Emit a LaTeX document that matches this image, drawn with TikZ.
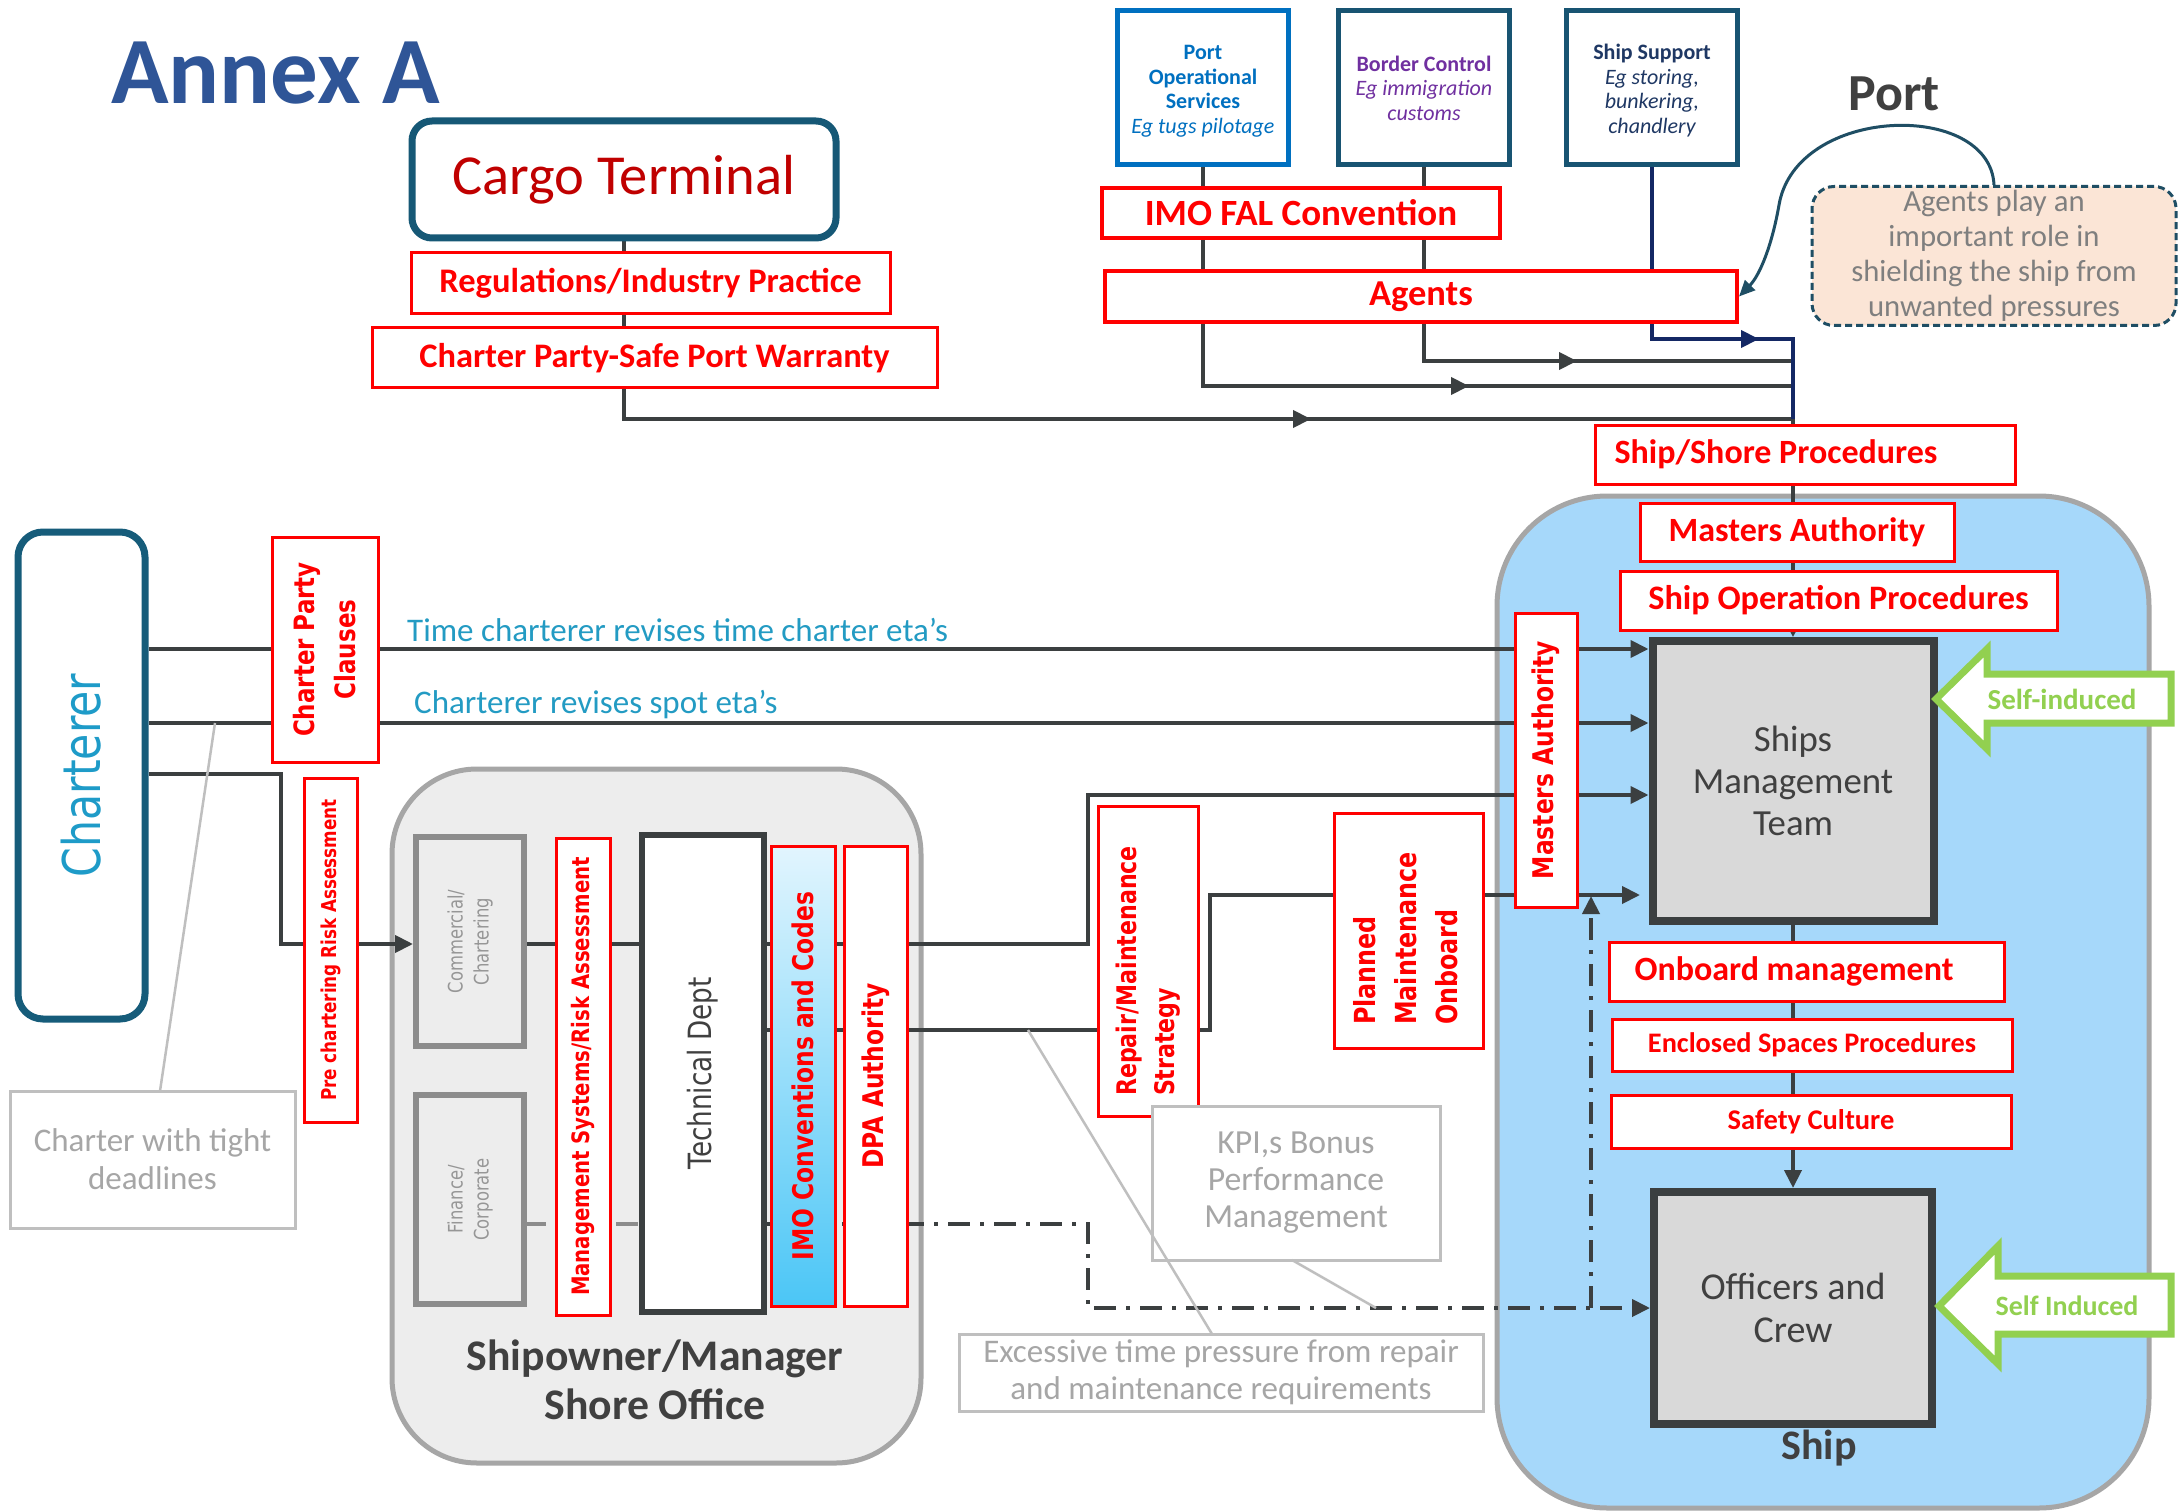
\documentclass[tikz,border=0pt]{standalone}
\usepackage{fontspec}
\setmainfont{Carlito}
\newfontfamily\tah[FakeStretch=0.82]{DejaVu Sans}
\usetikzlibrary{arrows.meta,calc}
\pgfdeclarelayer{back}
\pgfdeclarelayer{lines}
\pgfsetlayers{back,lines,main}
\newcommand\fsz[2]{\fontsize{#1}{#2}\selectfont}
\newcommand\stackc[1]{\raisebox{0pt}[\dimexpr\height+7pt\relax][\depth]{\begin{tabular}{@{}c@{}}#1\end{tabular}}}
\definecolor{lnc}{RGB}{59,63,64}
\definecolor{navyl}{RGB}{20,40,100}
\definecolor{annex}{RGB}{47,85,151}
\definecolor{cargob}{RGB}{22,88,118}
\definecolor{cargot}{RGB}{192,0,0}
\definecolor{posb}{RGB}{0,112,192}
\definecolor{bctlb}{RGB}{24,84,114}
\definecolor{purp}{RGB}{112,48,160}
\definecolor{ssupt}{RGB}{31,56,100}
\definecolor{dgray}{RGB}{64,64,64}
\definecolor{notec}{RGB}{31,78,100}
\definecolor{notef}{RGB}{251,229,214}
\definecolor{ntext}{RGB}{127,127,127}
\definecolor{shipf}{RGB}{166,216,250}
\definecolor{regb}{RGB}{166,166,166}
\definecolor{smtf}{RGB}{217,217,217}
\definecolor{grn}{RGB}{146,208,80}
\definecolor{chrb}{RGB}{22,92,122}
\definecolor{chrt}{RGB}{30,155,200}
\definecolor{lbl}{RGB}{35,155,195}
\definecolor{gbc}{RGB}{191,191,191}
\definecolor{gtx}{RGB}{166,166,166}
\definecolor{shoref}{RGB}{237,237,237}
\definecolor{comb}{RGB}{140,140,140}
\definecolor{comt}{RGB}{150,150,150}
\definecolor{cyanl}{RGB}{226,245,254}
\definecolor{cyand}{RGB}{75,198,246}
\begin{document}
\begin{tikzpicture}[x=1pt,y=-1pt,
  conn/.style={draw=lnc, line width=4pt},
  arr/.style={-{Triangle[length=18pt,width=17pt]}},
  dd/.style={dash pattern=on 22pt off 10pt on 4pt off 10pt},
  rbox/.style={draw=red, line width=3pt, fill=white, text=red, inner sep=0pt, font=\bfseries\fsz{34}{40}},
  rtbox/.style={draw=red, line width=3pt, fill=white, text=red, inner sep=0pt, rotate=90},
  gbox/.style={draw=gbc, line width=3pt, fill=white, text=gtx, inner sep=0pt, align=center},
  topbox/.style={line width=5pt, fill=white, minimum width=171pt, minimum height=154pt, font=\fsz{22}{24.5}, inner sep=0pt},
  crew/.style={draw=lnc, line width=8pt, fill=smtf, text=dgray, align=center, inner sep=0pt},
  selfarrow/.style={draw=grn, line width=7pt, fill=white, line join=miter},
  greytie/.style={draw=gbc, line width=2.5pt},
]
\useasboundingbox (0,0) rectangle (2179,1511);
\begin{pgfonlayer}{back}
\fill[white] (0,0) rectangle (2179,1511);
\path[draw=regb, line width=5pt, fill=shipf, rounded corners=110pt] (1497,496) rectangle (2149,1508);
\path[draw=regb, line width=5pt, fill=shoref, rounded corners=85pt] (392,769) rectangle (921,1463);
\end{pgfonlayer}

% ---------- title and top ----------
\node[font=\bfseries\fsz{95}{100}, text=annex, anchor=base west, inner sep=0pt] (title) at (111,104) {Annex A};
\node[draw=cargob, line width=7pt, rounded corners=20pt, fill=white, minimum width=424pt, minimum height=117pt, text=cargot, font=\fsz{56.5}{60}, inner sep=0pt] (cargo) at (624,179.5) {Cargo Terminal};
\node[rbox, minimum width=479pt, minimum height=61pt, font=\bfseries\fsz{34.5}{38}] (reg) at (650.5,283.5) {Regulations/Industry Practice};
\node[rbox, minimum width=565pt, minimum height=60pt, font=\bfseries\fsz{34.4}{38}] (cpw) at (654.5,358) {Charter Party-Safe Port Warranty};

\node[topbox, draw=posb, text=posb] (pos) at (1203,88) {\stackc{{\bfseries Port}\\{\bfseries Operational}\\{\bfseries Services}\\{\itshape Eg tugs pilotage}}};
\node[topbox, draw=bctlb, text=purp] (bctl) at (1424,87.5) {\stackc{{\bfseries Border Control}\\{\itshape Eg immigration}\\{\itshape customs}}};
\node[topbox, draw=bctlb, text=ssupt] (ssup) at (1652,88) {\stackc{{\bfseries Ship Support}\\{\itshape Eg storing,}\\{\itshape bunkering,}\\{\itshape chandlery}}};
\node[rbox, line width=4pt, minimum width=398pt, minimum height=50pt, font=\bfseries\fsz{37}{40}] (fal) at (1301,213) {IMO FAL Convention};
\node[rbox, line width=4pt, minimum width=632pt, minimum height=51pt, font=\bfseries\fsz{36.5}{42}] (agents) at (1421,296.5) {Agents};
\node[font=\bfseries\fsz{52}{60}, text=dgray, anchor=base, inner sep=0pt] (port) at (1894,111) {Port};
\node[draw=notec, dash pattern=on 7pt off 4pt, line width=3pt, rounded corners=22pt, fill=notef, minimum width=364pt, minimum height=139pt, text=ntext, font=\fsz{30.7}{35}, align=center, inner sep=0pt] (note) at (1994,256) {Agents play an\\important role in\\shielding the ship from\\unwanted pressures};
\draw[draw=notec, line width=3pt, -{Triangle[length=16pt,width=14pt]}] (note.north) .. controls (1990,100) and (1796,105) .. (1779,205) .. controls (1772,245) and (1760,275) .. (agents.east);

% ---------- ship ----------
\node[rbox, minimum width=420pt, minimum height=59pt] (ssp) at (1805,454.5) {\hspace*{-58pt}Ship/Shore Procedures};
\node[rbox, minimum width=314pt, minimum height=58pt] (mah) at (1797,532) {Masters Authority};
\node[rbox, minimum width=437pt, minimum height=59pt, font=\bfseries\fsz{34.3}{40}] (sop) at (1838.5,600.5) {Ship Operation Procedures};
\node[crew, minimum width=281pt, minimum height=280pt, font=\fsz{36.8}{42}] (smt) at (1793,781) {Ships\\Management\\Team};
\node[rbox, minimum width=395pt, minimum height=59pt] (obm) at (1806.5,971.5) {\hspace*{-25pt}Onboard management};
\node[rbox, minimum width=400pt, minimum height=52pt, font=\bfseries\fsz{28.3}{32}] (esp) at (1812,1045) {Enclosed Spaces Procedures};
\node[rbox, minimum width=400pt, minimum height=53pt, font=\bfseries\fsz{28.5}{32}] (sfc) at (1811,1121.5) {Safety Culture};
\node[crew, minimum width=278pt, minimum height=232pt, font=\fsz{38}{43}] (oac) at (1793,1308) {Officers and\\Crew};
\node[font=\bfseries\fsz{42}{48}, text=dgray, inner sep=0pt] (shiptxt) at (1819,1448) {Ship};
\node[rtbox, minimum width=294pt, minimum height=62pt, font=\tah\bfseries\fsz{28.5}{34}] (mav) at (1546,760) {Masters Authority};

\draw[selfarrow] (1936,699) -- (1987,649) -- (1987,674) -- (2171,674) -- (2171,723) -- (1987,723) -- (1987,749) -- cycle;
\node[text=grn, font=\bfseries\fsz{29}{32}, inner sep=0pt] (si1) at (2062,699) {Self-induced};
\draw[selfarrow] (1939,1306) -- (1998,1246) -- (1998,1276) -- (2171,1276) -- (2171,1334) -- (1998,1334) -- (1998,1364) -- cycle;
\node[text=grn, font=\bfseries\fsz{28}{32}, inner sep=0pt] (si2) at (2067,1306) {Self Induced};

% ---------- charterer ----------
\node[draw=chrb, line width=7pt, rounded corners=25pt, fill=white, rotate=90, minimum width=487pt, minimum height=127pt, text=chrt, font=\tah\fsz{52}{60}, inner sep=0pt] (chr) at (81.5,775.5) {Charterer};
\node[rtbox, minimum width=225pt, minimum height=106pt, font=\tah\bfseries\fsz{28}{41}, align=center] (cpc) at (325,649.5) {Charter Party\\Clauses};
\node[rtbox, minimum width=344pt, minimum height=53pt, font=\tah\bfseries\fsz{20.5}{24}] (pre) at (330.5,950) {Pre chartering Risk Assessment};
\node[gbox, minimum width=285pt, minimum height=137pt, font=\fsz{33}{38}] (ctd) at (152.5,1159.5) {Charter with tight\\deadlines};
\node[text=lbl, font=\fsz{33}{36}, anchor=base west, inner sep=0pt] (lab1) at (407,641) {Time charterer revises time charter eta’s};
\node[text=lbl, font=\fsz{33}{36}, anchor=base west, inner sep=0pt] (lab2) at (414,713) {Charterer revises spot eta’s};

% ---------- shore office ----------
\node[font=\bfseries\fsz{43.7}{49}, text=dgray, align=center, inner sep=0pt] (shoretxt) at (655,1380) {Shipowner/Manager\\Shore Office};
\node[draw=comb, line width=6pt, fill=shoref, rotate=90, minimum width=209pt, minimum height=108pt, text=comt, font=\tah\fsz{20}{26}, align=center, inner sep=0pt] (com) at (470,941.5) {Commercial/\\Chartering};
\node[draw=comb, line width=6pt, fill=shoref, rotate=90, minimum width=209pt, minimum height=108pt, text=comt, font=\tah\fsz{20}{26}, align=center, inner sep=0pt] (fin) at (470,1199.5) {Finance/\\Corporate};
\node[rtbox, minimum width=477pt, minimum height=54pt, font=\tah\bfseries\fsz{24}{28}] (msr) at (583,1076.5) {Management Systems/Risk Assessment};
\node[draw=lnc, line width=6pt, fill=white, rotate=90, minimum width=477pt, minimum height=122pt, text=dgray, font=\tah\fsz{32}{36}, inner sep=0pt] (tech) at (703,1073.5) {Technical Dept};
\node[rtbox, minimum width=460pt, minimum height=64pt, top color=cyanl, bottom color=cyand, font=\tah\bfseries\fsz{28.5}{32}] (imo) at (803,1076) {IMO Conventions and Codes};
\node[rtbox, minimum width=460pt, minimum height=63pt, font=\tah\bfseries\fsz{28.5}{32}] (dpa) at (875.5,1076) {DPA Authority};
\node[rtbox, minimum width=310pt, minimum height=100pt, font=\tah\bfseries\fsz{27}{38}] (rms) at (1148,961) {\hspace*{-20pt}\begin{tabular}{@{}l@{}}Repair/Maintenance\\Strategy\end{tabular}};
\node[rtbox, minimum width=235pt, minimum height=149pt, font=\tah\bfseries\fsz{29}{41}] (pmo) at (1408.5,930.5) {\hspace*{-16pt}\begin{tabular}{@{}l@{}}Planned\\Maintenance\\Onboard\end{tabular}};
\node[gbox, minimum width=288pt, minimum height=154pt, font=\fsz{33.7}{37}] (kpi) at (1296,1183) {KPI,s Bonus\\Performance\\Management};
\node[gbox, minimum width=524pt, minimum height=77pt, font=\fsz{33}{37}] (exc) at (1221,1372.5) {Excessive time pressure from repair\\and maintenance requirements};

% ---------- connectors ----------
\coordinate (jc) at (1793,419);
\begin{pgfonlayer}{lines}
\draw[conn, arr] (cargo.south) |- (1311,419);
\draw[conn] (1300,419) -- (jc);
\draw[conn, arr] (pos.south) |- (1469,386);
\draw[conn] (1460,386) -- (1793,386);
\draw[conn, arr] (bctl.south) |- (1577,361);
\draw[conn] (1570,361) -- (1793,361);
\draw[conn, draw=navyl, arr] (ssup.south) |- (1759,339);
\draw[conn, draw=navyl] (1750,339) -- (1793,339) -- (jc);
\draw[conn, -{Triangle[length=10pt,width=10pt]}] (jc) -- (smt.north);
\draw[conn, arr] (smt.south) -- (oac.north);
\draw[conn, arr] (149,649) -- (smt.west |- 0,649);
\draw[conn, arr] (149,723) -- (smt.west |- 0,723);
\draw[conn, arr] (149,774) -| (281,944) -- (413,944);
\draw[conn, arr] (524,944) -- (1088,944) -- (1088,795) -- (smt.west |- 0,795);
\draw[conn, arr] (764,1030) -- (1210,1030) -- (1210,895) -- (1640,895);
\draw[conn, draw=comb, dd] (524,1224) -- (642,1224);
\draw[conn, dd, arr] (764,1224) -- (1088,1224) -- (1088,1308) -- (oac.west);
\draw[conn, dd, arr] (1591,1308) -- (1591,896);
\end{pgfonlayer}
\draw[greytie] (160,1091) -- (215,723);
\draw[greytie] (1028,1030) -- (1212,1334);
\draw[greytie] (1292,1260) -- (1376,1308);
\end{tikzpicture}
\end{document}
